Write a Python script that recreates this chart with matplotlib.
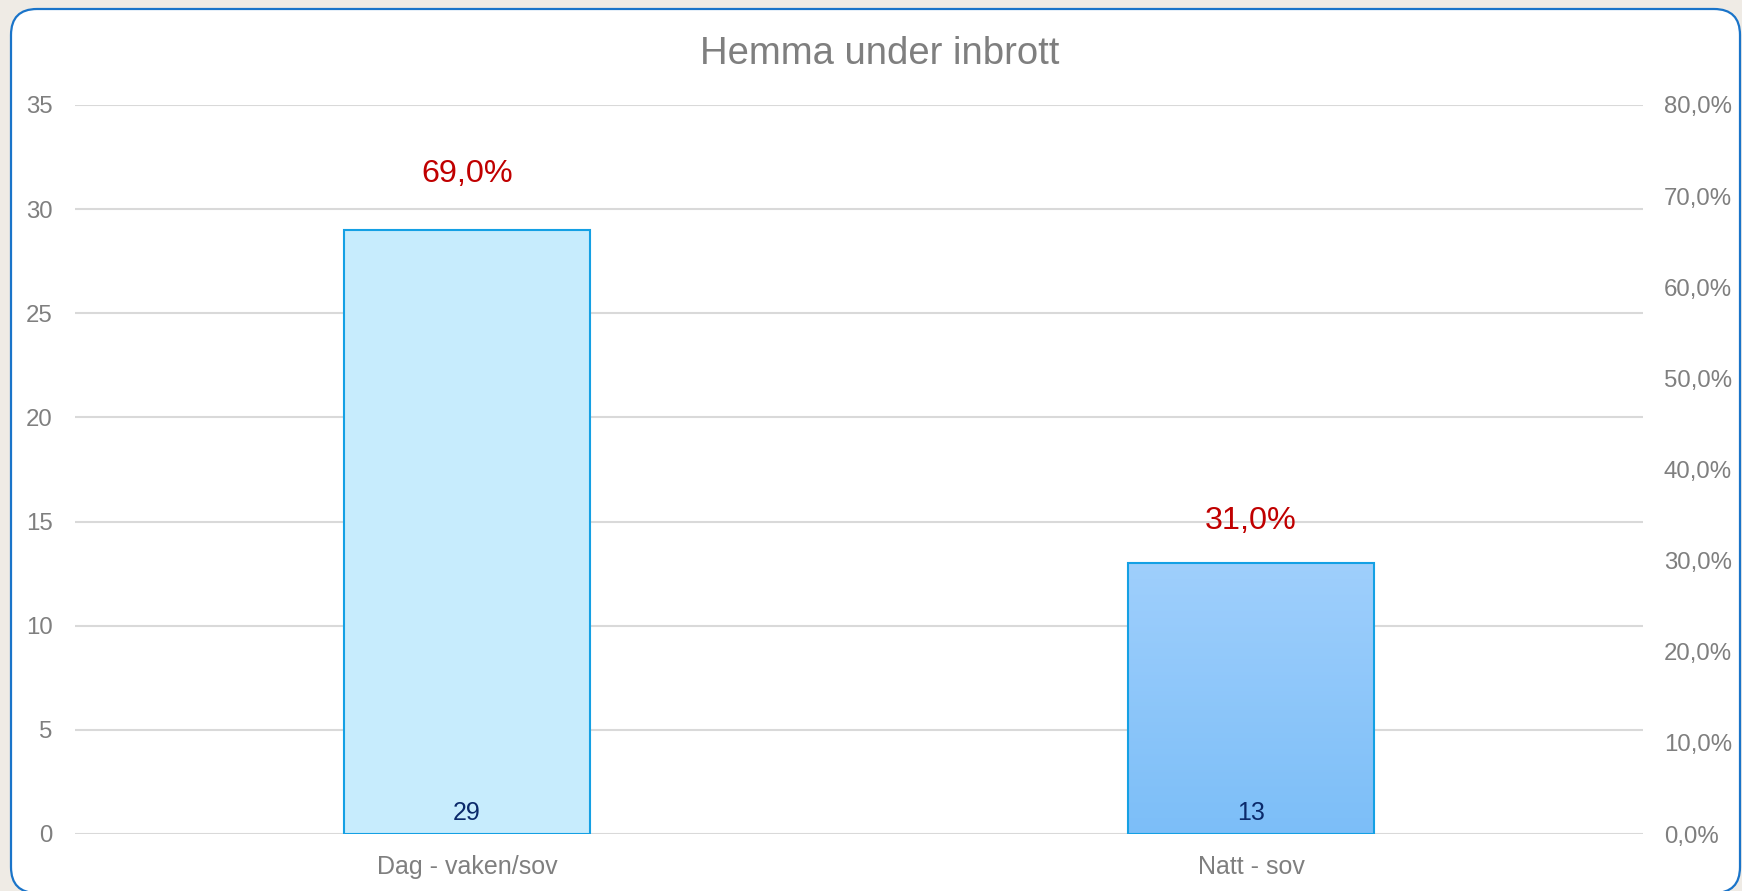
import numpy as np
import matplotlib
matplotlib.use("Agg")
import matplotlib.pyplot as plt
from matplotlib import font_manager as fm
from matplotlib.patches import FancyBboxPatch
from matplotlib.colors import LinearSegmentedColormap

# data
categories = ['Dag - vaken/sov', 'Natt - sov']
counts = [29, 13]
shares = [0.69, 0.31]
title = 'Hemma under inbrott'


def arial_like():
    """Path of the regular (not narrow) Liberation Sans file, if any."""
    for f in fm.fontManager.ttflist:
        name = f.fname.lower()
        if 'liberationsans-regular' in name and 'narrow' not in name:
            return f.fname
    return None


path = arial_like()


def fp(size):
    if path:
        return fm.FontProperties(fname=path, size=size)
    return fm.FontProperties(family='DejaVu Sans', size=size)


W, H = 1742, 891
fig = plt.figure(figsize=(W / 100, H / 100), dpi=100)
fig.patch.set_facecolor('#EFEBE5')

# rounded white card behind the chart
bg = fig.add_axes([0, 0, 1, 1])
bg.set_xlim(0, W)
bg.set_ylim(H, 0)
bg.axis('off')
bg.add_patch(FancyBboxPatch((11, 9), 1729, 884,
                            boxstyle='round,pad=0,rounding_size=26',
                            facecolor='white', edgecolor='#1A74C9', linewidth=1.6))

ax = fig.add_axes([75 / W, 57 / H, 1568 / W, 729 / H])
ax.set_facecolor('none')
x = np.arange(len(categories))
bars = ax.bar(x, counts, width=0.314, color=['#C7ECFD', 'none'],
              edgecolor='#14A0E4', linewidth=1.5, zorder=3)

# gradient fill for the second bar
cmap = LinearSegmentedColormap.from_list('g', ['#7CBEF8', '#9FCFFC'])
b = bars[1]
grad = np.linspace(0, 1, 256).reshape(-1, 1)
im = ax.imshow(grad, cmap=cmap, origin='lower', aspect='auto', zorder=2,
               extent=[b.get_x(), b.get_x() + b.get_width(), 0, b.get_height()])
im.set_clip_path(b)

ax.set_xlim(-0.5, 1.5)
ax.set_ylim(0, 35)
ax.set_yticks(range(0, 36, 5))
ax.grid(axis='y', color='#D9D9D9', linewidth=1.5, zorder=0)
ax.set_axisbelow(True)
for s in ax.spines.values():
    s.set_visible(False)
ax.tick_params(axis='y', length=0, labelcolor='#7F7F7F', pad=16)
ax.tick_params(axis='x', length=0, labelcolor='#7F7F7F', pad=15)
ax.set_xticks(x)
ax.set_xticklabels(categories)
for lbl in ax.get_yticklabels():
    lbl.set_fontproperties(fp(17.3))
for lbl in ax.get_xticklabels():
    lbl.set_fontproperties(fp(18))

for xi, c in zip(x, counts):
    ax.text(xi, 0.42, str(c), ha='center', va='bottom', fontproperties=fp(18),
            color='#0B2A6B', zorder=4)

ax2 = ax.twinx()
ax2.set_ylim(0, 0.8)
ticks2 = np.arange(0, 0.81, 0.1)
ax2.set_yticks(ticks2)
ax2.set_yticklabels([f'{v * 100:.1f}%'.replace('.', ',') for v in ticks2])
for s in ax2.spines.values():
    s.set_visible(False)
ax2.tick_params(length=0, labelcolor='#7F7F7F', pad=15)
for lbl in ax2.get_yticklabels():
    lbl.set_fontproperties(fp(17.3))
ax2.plot(x, shares, linestyle='none', marker='none')
for xi, p in zip(x, shares):
    ax2.annotate(f'{p * 100:.1f}%'.replace('.', ','), (xi, p), xytext=(0, 31),
                 textcoords='offset pixels', ha='center', va='center',
                 fontproperties=fp(23.3), color='#C00000')

fig.text(880 / W, 1 - 54 / H, title, ha='center', va='center',
         fontproperties=fp(27.5), color='#7F7F7F')

fig.savefig('out.png', dpi=100, facecolor=fig.get_facecolor())
